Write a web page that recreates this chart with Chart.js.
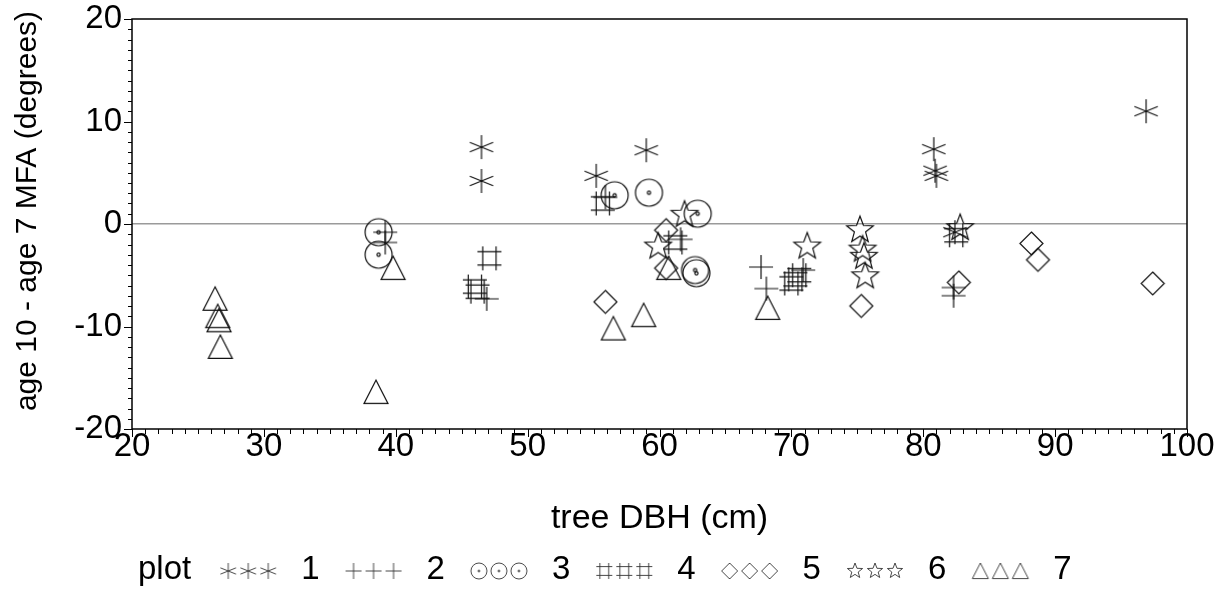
<!DOCTYPE html>
<html>
<head>
<meta charset="utf-8">
<script src="https://cdn.jsdelivr.net/npm/chart.js@4/dist/chart.umd.min.js"></script>
<style>
  html, body { margin: 0; padding: 0; background: #fff; }
  canvas { display: block; }
</style>
</head>
<body>
<canvas id="mfaChart" width="1221" height="595"></canvas>
<script>
// data: tree DBH (cm) vs age 10 - age 7 MFA (degrees), by plot
const plotLabels = ['1', '2', '3', '4', '5', '6', '7'];

const plot1X = [46.5, 46.5, 55.2, 59.0, 80.8, 80.9, 81.0, 82.4, 96.9];
const plot1Y = [7.5, 4.2, 4.7, 7.2, 7.3, 5.2, 4.7, -0.8, 11.0];

const plot2X = [39.2, 39.2, 46.9, 55.9, 61.6, 67.7, 68.1, 70.9, 82.3, 82.3];
const plot2Y = [-0.8, -1.8, -7.3, 2.6, -1.5, -4.2, -6.3, -4.5, -6.2, -7.0];

const plot3X = [38.7, 38.7, 56.6, 59.2, 62.9, 62.7, 62.8];
const plot3Y = [-0.8, -3.0, 2.8, 3.05, 1.0, -4.5, -4.8];

const plot4X = [46.0, 46.2, 47.1, 55.7, 61.2, 70.0, 70.3, 70.6, 82.5];
const plot4Y = [-6.1, -6.6, -3.35, 2.0, -1.8, -5.8, -5.4, -5.0, -1.1];

const plot5X = [55.9, 60.5, 60.5, 75.3, 82.7, 88.2, 88.7, 97.4];
const plot5Y = [-7.6, -0.6, -4.3, -8.0, -5.7, -1.9, -3.5, -5.8];

const plot6X = [59.9, 61.9, 71.2, 75.2, 75.4, 75.5, 75.6, 82.8];
const plot6Y = [-2.2, 0.9, -2.2, -0.6, -2.5, -3.2, -5.1, -0.4];

const plot7X = [26.3, 26.5, 26.6, 26.7, 38.5, 39.8, 56.5, 58.8, 60.7, 68.2];
const plot7Y = [-7.3, -9.0, -9.4, -12.0, -16.4, -4.3, -10.2, -8.9, -4.3, -8.2];

const xTicks = [20, 30, 40, 50, 60, 70, 80, 90, 100];
const yTicks = [-20, -10, 0, 10, 20];

const FONT = '"Liberation Sans", Arial, sans-serif';

// SAS-like marker symbols drawn on small canvases
function makeSymbol(kind, s, lw, color) {
  const pad = 3;
  const w = Math.ceil(s + 2 * pad);
  const c = document.createElement('canvas');
  c.width = w; c.height = w;
  const g = c.getContext('2d');
  const m = w / 2, r = s / 2;
  g.strokeStyle = color;
  g.lineWidth = lw;
  g.beginPath();
  if (kind === 'asterisk') {
    g.moveTo(m, m - r); g.lineTo(m, m + r);
    [22, -22].forEach(a => {
      const dx = Math.cos(a * Math.PI / 180) * r * 1.05;
      const dy = Math.sin(a * Math.PI / 180) * r * 1.05;
      g.moveTo(m - dx, m - dy); g.lineTo(m + dx, m + dy);
    });
  } else if (kind === 'plus') {
    g.moveTo(m, m - r); g.lineTo(m, m + r);
    g.moveTo(m - r, m); g.lineTo(m + r, m);
  } else if (kind === 'circle') {
    g.arc(m, m, r, 0, Math.PI * 2);
    g.moveTo(m + r * 0.12, m);
    g.arc(m, m, r * 0.12, 0, Math.PI * 2);
  } else if (kind === 'hash') {
    const o = r * 0.55;
    g.moveTo(m - o, m - r); g.lineTo(m - o, m + r);
    g.moveTo(m + o, m - r); g.lineTo(m + o, m + r);
    g.moveTo(m - r, m - o); g.lineTo(m + r, m - o);
    g.moveTo(m - r, m + o); g.lineTo(m + r, m + o);
  } else if (kind === 'diamond') {
    g.moveTo(m, m - r); g.lineTo(m + r, m); g.lineTo(m, m + r); g.lineTo(m - r, m);
    g.closePath();
  } else if (kind === 'star') {
    for (let i = 0; i < 10; i++) {
      const rr = i % 2 === 0 ? r : r * 0.42;
      const a = -Math.PI / 2 + i * Math.PI / 5;
      const px = m + Math.cos(a) * rr, py = m + Math.sin(a) * rr;
      if (i === 0) g.moveTo(px, py); else g.lineTo(px, py);
    }
    g.closePath();
  } else if (kind === 'triangle') {
    g.moveTo(m, m - r); g.lineTo(m + r, m + r * 0.95); g.lineTo(m - r, m + r * 0.95);
    g.closePath();
  }
  g.stroke();
  return c;
}

const kinds = ['asterisk', 'plus', 'circle', 'hash', 'diamond', 'star', 'triangle'];
const sizes = [24, 24, 27, 24, 23, 28, 24];
const markers = kinds.map((k, i) => makeSymbol(k, sizes[i], 1.2, '#111'));
const legendGlyphs = kinds.map(k => makeSymbol(k, 16, 0.9, '#333'));

const xs = [plot1X, plot2X, plot3X, plot4X, plot5X, plot6X, plot7X];
const ys = [plot1Y, plot2Y, plot3Y, plot4Y, plot5Y, plot6Y, plot7Y];

const datasets = plotLabels.map((lab, i) => ({
  label: lab,
  data: xs[i].map((x, j) => ({ x: x, y: ys[i][j] })),
  pointStyle: markers[i],
  pointRadius: 12,
  showLine: false
}));

// frame, outward ticks (major + minor), y title and the "plot" legend row
const framePlugin = {
  id: 'framePlugin',
  afterDraw(chart) {
    const { ctx, chartArea: a, scales } = chart;
    ctx.save();
    ctx.strokeStyle = '#000';
    ctx.lineWidth = 1.5;
    ctx.strokeRect(a.left, a.top, a.right - a.left, a.bottom - a.top);
    ctx.lineWidth = 1;
    ctx.beginPath();
    for (let v = scales.x.min; v <= scales.x.max; v++) {
      const px = Math.round(scales.x.getPixelForValue(v)) + 0.5;
      const len = v % 10 === 0 ? 8 : 5;
      ctx.moveTo(px, a.bottom); ctx.lineTo(px, a.bottom + len);
    }
    for (let v = scales.y.min; v <= scales.y.max; v++) {
      const py = Math.round(scales.y.getPixelForValue(v)) + 0.5;
      const len = v % 10 === 0 ? 8 : 4;
      ctx.moveTo(a.left, py); ctx.lineTo(a.left - len, py);
    }
    ctx.stroke();

    // y axis title, sitting a little above the axis centre as in the original
    ctx.fillStyle = '#000';
    ctx.font = '30px ' + FONT;
    ctx.textAlign = 'center';
    ctx.textBaseline = 'middle';
    ctx.save();
    ctx.translate(28, 211);
    ctx.rotate(-Math.PI / 2);
    ctx.fillText('age 10 - age 7 MFA (degrees)', 0, 0);
    ctx.restore();

    // legend
    const y = 570;
    ctx.font = '33px ' + FONT;
    ctx.textAlign = 'left';
    let x = 138;
    ctx.fillText('plot', x, y);
    x += ctx.measureText('plot').width + 28;
    chart.data.datasets.forEach((ds, i) => {
      const gl = legendGlyphs[i];
      for (let k = 0; k < 3; k++) {
        ctx.drawImage(gl, x + k * 20 - 2, y - gl.height / 2 + 1);
      }
      x += 3 * 20 + 22;
      ctx.fillText(ds.label, x, y);
      x += ctx.measureText(ds.label).width + 25;
    });
    ctx.restore();
  }
};

const ctx1 = document.getElementById('mfaChart').getContext('2d');
const mfaChart = new Chart(ctx1, {
  type: 'scatter',
  data: { datasets: datasets },
  plugins: [framePlugin],
  options: {
    responsive: false,
    animation: false,
    events: [],
    layout: { padding: { top: 19, right: 34, left: 0, bottom: 0 } },
    plugins: {
      legend: { display: false },
      tooltip: { enabled: false }
    },
    scales: {
      x: {
        type: 'linear',
        min: 20,
        max: 100,
        afterBuildTicks: s => { s.ticks = xTicks.map(v => ({ value: v })); },
        afterFit: s => { s.height = 166; s.paddingLeft = 0; s.paddingRight = 0; },
        ticks: {
          color: '#000',
          font: { family: FONT, size: 33, lineHeight: 1 },
          padding: 1,
          maxRotation: 0,
          autoSkip: false
        },
        grid: { display: false, drawTicks: false },
        border: { display: false },
        title: {
          display: true,
          text: 'tree DBH (cm)',
          color: '#000',
          font: { family: FONT, size: 34, lineHeight: 1.2 },
          padding: { top: 0, bottom: 56 }
        }
      },
      y: {
        type: 'linear',
        min: -20,
        max: 20,
        afterBuildTicks: s => { s.ticks = yTicks.map(v => ({ value: v })); },
        afterFit: s => { s.width = 132; s.paddingTop = 0; s.paddingBottom = 0; },
        ticks: {
          color: '#000',
          font: { family: FONT, size: 33, lineHeight: 1 },
          padding: 10,
          autoSkip: false
        },
        grid: {
          drawTicks: false,
          lineWidth: 1.5,
          color: c => (c.tick && c.tick.value === 0 ? '#9a9a9a' : 'rgba(0,0,0,0)')
        },
        border: { display: false }
      }
    }
  }
});
</script>
</body>
</html>
